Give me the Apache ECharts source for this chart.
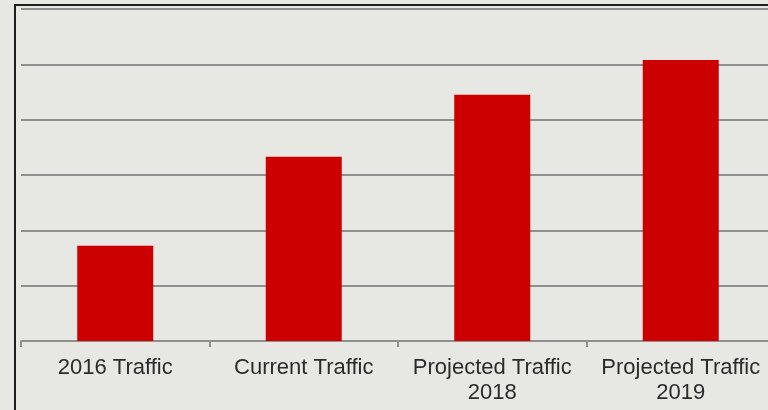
<!DOCTYPE html>
<html>
<head>
<meta charset="utf-8">
<script src="https://cdn.jsdelivr.net/npm/echarts@6/dist/echarts.min.js"></script>
<style>
  html, body { margin: 0; padding: 0; background: #e7e7e4; overflow: hidden; }
  /* 画布比窗口略宽，让右侧类目超出画面，与原图一致 */
  #chart { width: 800px; height: 410px; }
</style>
</head>
<body>
<div id="chart"></div>
<script>
// 类目与数值（按网格格数读取）
const categories = ['2016 Traffic', 'Current Traffic', 'Projected Traffic\n2018', 'Projected Traffic\n2019']
const trafficValues = [1.72, 3.33, 4.45, 5.08]
const yMax = 6

const chart = echarts.init(document.getElementById('chart'), null, { renderer: 'canvas' })

const gridColor = '#8f8f8f'
const barColor = '#cc0000'

const option = {
  backgroundColor: '#e7e7e4',
  animation: false,
  grid: {
    left: 21,
    top: 9,
    width: 754,
    height: 332,
    containLabel: false
  },
  // 外框：左上两边可见，右下超出画面
  graphic: [
    {
      type: 'rect',
      shape: { x: 15, y: 5, width: 820, height: 500 },
      style: { fill: 'none', stroke: '#1e1e1e', lineWidth: 2 },
      silent: true
    }
  ],
  xAxis: {
    type: 'category',
    data: categories,
    axisLine: { lineStyle: { color: gridColor, width: 2 } },
    axisTick: { show: true, length: 6, lineStyle: { color: gridColor, width: 2 } },
    axisLabel: {
      color: '#2b2b2b',
      fontFamily: 'Liberation Sans, Arial, sans-serif',
      fontSize: 22,
      lineHeight: 25,
      margin: 14,
      interval: 0
    }
  },
  yAxis: {
    type: 'value',
    min: 0,
    max: yMax,
    interval: 1,
    axisLabel: { show: false },
    axisLine: { show: false },
    axisTick: { show: false },
    splitLine: { lineStyle: { color: gridColor, width: 2 } }
  },
  series: [
    {
      type: 'bar',
      data: trafficValues,
      barWidth: 76,
      itemStyle: { color: barColor }
    }
  ]
}

chart.setOption(option)
</script>
</body>
</html>
